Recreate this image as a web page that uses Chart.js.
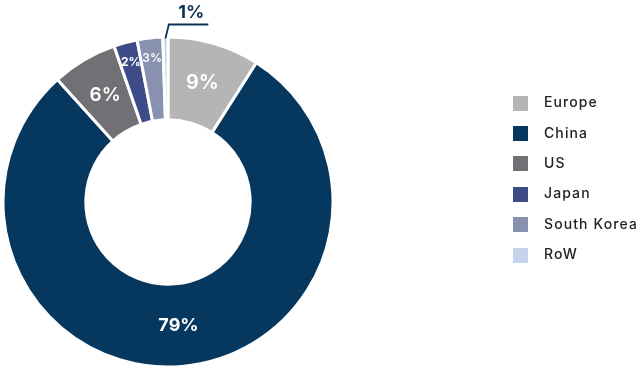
<!DOCTYPE html>
<html><head><meta charset="utf-8">
<script src="https://cdn.jsdelivr.net/npm/chart.js@4/dist/chart.umd.min.js"></script>
<style>html,body{margin:0;padding:0;background:#fff}#wrap{width:644px;height:370px}</style>
</head><body><div id="wrap"><canvas id="c" width="644" height="370"></canvas></div>
<script>
// ---- data ----
const categories = ['Europe', 'China', 'US', 'Japan', 'South Korea', 'RoW'];
const shares = [9, 79.3, 6.4, 2.3, 2.5, 0.5];
const shareLabels = ['9%', '79%', '6%', '2%', '3%', '1%'];

// ---- styles ----
const colors = ['#b5b5b5', '#05375f', '#707075', '#3d4b87', '#8891b0', '#c6d1eb'];
const labelFonts = ['600 20px', '700 18px', '600 19px', '700 12px', '600 12px', '700 18px'];
const FONT = 'Inter, "Open Sans", sans-serif';
const NAVY = '#0d3158';

function swatch(color) {
  const c = document.createElement('canvas');
  c.width = 15; c.height = 15;
  const g = c.getContext('2d');
  g.fillStyle = color; g.fillRect(0, 0, 15, 15);
  return c;
}

const layoutFix = {
  id: 'layoutFix',
  afterLayout(chart) {
    const R = 166.5, cx = 168, cy = 202;
    chart.chartArea = {left: cx - R, top: cy - R, right: cx + R, bottom: cy + R, width: 2 * R, height: 2 * R};
    const lg = chart.legend;
    const w = lg.width, h = lg.height;
    lg.left = 487.6; lg.right = lg.left + w;
    lg.top = 79.6; lg.bottom = lg.top + h;
  },
  beforeDraw(chart) { chart.ctx.letterSpacing = '1.1px'; },
  beforeDatasetsDraw(chart) { chart.ctx.letterSpacing = '0px'; }
};

const sliceLabels = {
  id: 'sliceLabels',
  afterDatasetsDraw(chart) {
    const ctx = chart.ctx;
    const meta = chart.getDatasetMeta(0);
    ctx.save();
    ctx.letterSpacing = '0px';
    ctx.textAlign = 'center';
    ctx.textBaseline = 'middle';
    meta.data.forEach((arc, i) => {
      const p = arc.getProps(['startAngle', 'endAngle', 'innerRadius', 'outerRadius', 'x', 'y'], true);
      const mid = (p.startAngle + p.endAngle) / 2;
      const v = shares[i];
      ctx.font = labelFonts[i] + ' ' + FONT;
      if (v < 1) {
        const r = p.outerRadius - 1.5;
        const x0 = p.x + Math.cos(mid) * r, y0 = p.y + Math.sin(mid) * r;
        const x1 = x0 + 3.4, y1 = y0 - 14;
        const x2 = x1 + 39.5;
        ctx.strokeStyle = NAVY; ctx.lineWidth = 1.8;
        ctx.beginPath(); ctx.moveTo(x0, y0); ctx.lineTo(x1, y1); ctx.lineTo(x2, y1); ctx.stroke();
        ctx.fillStyle = NAVY;
        ctx.fillText(shareLabels[i], x1 + 22.5, y1 - 12);
      } else {
        const r = v < 4 ? p.innerRadius + 0.75 * (p.outerRadius - p.innerRadius)
                        : (p.innerRadius + p.outerRadius) / 2;
        ctx.fillStyle = '#ffffff';
        ctx.fillText(shareLabels[i], p.x + Math.cos(mid) * r, p.y + Math.sin(mid) * r);
      }
    });
    ctx.restore();
  }
};

new Chart(document.getElementById('c'), {
  type: 'doughnut',
  data: {
    labels: categories,
    datasets: [{
      data: shares,
      backgroundColor: colors,
      borderColor: '#ffffff',
      borderWidth: 3,
      hoverOffset: 0
    }]
  },
  options: {
    responsive: false,
    animation: false,
    cutout: '49.8%',
    events: [],
    layout: {padding: {top: 35, bottom: 2, left: 2, right: 0}},
    plugins: {
      tooltip: {enabled: false},
      legend: {
        position: 'right',
        align: 'start',
        labels: {
          usePointStyle: true,
          pointStyleWidth: 33,
          padding: 16.4,
          color: '#222222',
          font: {family: FONT, size: 14, weight: '500'},
          generateLabels(chart) {
            const items = Chart.overrides.doughnut.plugins.legend.labels.generateLabels(chart);
            return items.map(it => Object.assign(it, {pointStyle: swatch(it.fillStyle), lineWidth: 0}));
          }
        }
      }
    }
  },
  plugins: [layoutFix, sliceLabels]
});
</script>
</body></html>
